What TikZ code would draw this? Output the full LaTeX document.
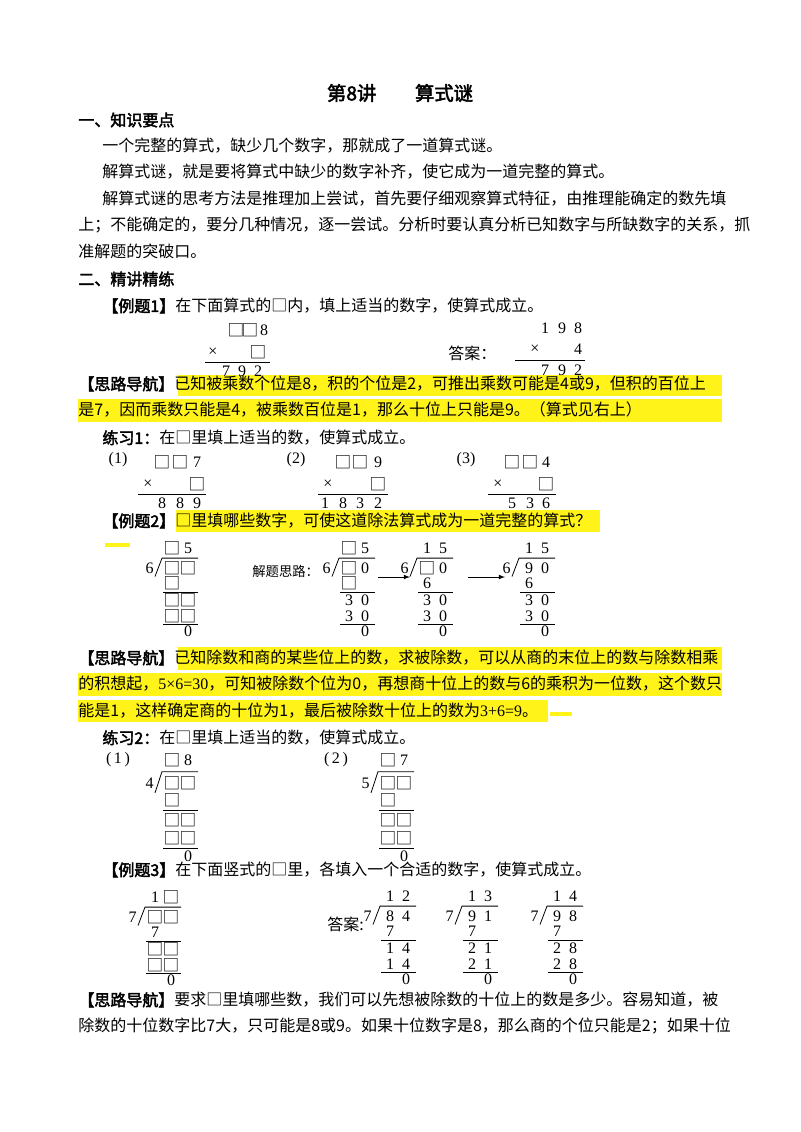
\documentclass[tikz,border=0pt]{standalone}
\usepackage{fontspec}
\setmainfont{Noto Sans CJK SC}[AutoFakeBold=2.5]
\newfontfamily\cjkf{Noto Sans CJK SC}
\newfontfamily\lsf{Liberation Serif}
\newcommand\bx{{\cjkf\fontsize{12.5}{13}\selectfont □}}
\newcommand\rw[3]{\node[dg] at (9,#1){#2}; \node[dg] at (25,#1){#3};}
\newcommand\frm[1]{\node[dg,anchor=east] at (-9,22){#1}; \draw (-8,31)--(-1,11)--(35,11); \draw (0,48)--(35,48); \draw (0,83)--(35,83);}
\begin{document}
\begin{tikzpicture}[x=0.75pt,y=-0.75pt,
  tx/.style={anchor=west,inner sep=0,font=\fontsize{12}{14}\selectfont},
  hd/.style={tx,font=\fontsize{12}{14}\selectfont\bfseries},
  dg/.style={inner sep=0,font=\lsf\fontsize{12}{13}\selectfont},
  hl/.style={fill=yellow!90!white},
  line width=0.6pt]
\fill[white] (0,0) rectangle (800,1132);
% highlights
\fill[hl] (178,375) rectangle (722,396);
\fill[hl] (78,399) rectangle (722,422);
\fill[hl] (176,510) rectangle (600,532);
\fill[hl] (105,543) rectangle (130,547);
\fill[hl] (178,647) rectangle (722,670);
\fill[hl] (78,673) rectangle (722,696);
\fill[hl] (78,700) rectangle (548,722);
\fill[hl] (550,712) rectangle (572,716);
% title & text
\node[inner sep=0,font=\fontsize{14.5}{16}\selectfont\bfseries] (t) at (400,93) {第8讲\quad\quad 算式谜};
\node[hd] (h1) at (78,120) {一、知识要点};
\node[tx] (l1) at (102,146) {一个完整的算式，缺少几个数字，那就成了一道算式谜。};
\node[tx] (l2) at (102,172) {解算式谜，就是要将算式中缺少的数字补齐，使它成为一道完整的算式。};
\node[tx] (l3) at (102,199) {解算式谜的思考方法是推理加上尝试，首先要仔细观察算式特征，由推理能确定的数先填};
\node[tx] (l4) at (78,225) {上；不能确定的，要分几种情况，逐一尝试。分析时要认真分析已知数字与所缺数字的关系，抓};
\node[tx] (l5) at (78,251) {准解题的突破口。};
\node[hd] (h2) at (78,279) {二、精讲精练};
\node[tx] (e1) at (102,306) {\textbf{【例题1】}在下面算式的□内，填上适当的数字，使算式成立。};
% example 1
\node[dg] at (236,330){\bx}; \node[dg] at (250,330){\bx}; \node[dg] at (264,330){8};
\node[dg] at (213,352){×}; \node[dg] at (258,352){\bx};
\draw (205,362)--(270,362);
\node[dg] at (226,371){7}; \node[dg] at (242,371){9}; \node[dg] at (258,371){2};
\node[tx] at (448,353){答案：};
\node[dg] at (545,328){1}; \node[dg] at (562,328){9}; \node[dg] at (578,328){8};
\node[dg] at (535,349){×}; \node[dg] at (578,349){4};
\draw (515,360)--(585,360);
\node[dg] at (545,370){7}; \node[dg] at (562,370){9}; \node[dg] at (578,370){2};
\node[tx] (s1) at (78,384) {\textbf{【思路导航】}已知被乘数个位是8，积的个位是2，可推出乘数可能是4或9，但积的百位上};
\node[tx] (s2) at (78,410) {是7，因而乘数只能是4，被乘数百位是1，那么十位上只能是9。（算式见右上）};
\node[tx] (p1) at (102,438) {\textbf{练习1：}在□里填上适当的数，使算式成立。};
% practice 1
\node[dg] at (118,460){(1)};
\node[dg] at (162,462){\bx}; \node[dg] at (180,462){\bx}; \node[dg] at (197,462){7};
\node[dg] at (148,484){×}; \node[dg] at (197,484){\bx};
\draw (138,494)--(206,494);
\node[dg] at (162,503){8}; \node[dg] at (180,503){8}; \node[dg] at (197,503){9};
\node[dg] at (296,460){(2)};
\node[dg] at (343,462){\bx}; \node[dg] at (360,462){\bx}; \node[dg] at (378,462){9};
\node[dg] at (328,484){×}; \node[dg] at (378,484){\bx};
\draw (318,494)--(388,494);
\node[dg] at (325,503){1}; \node[dg] at (343,503){8}; \node[dg] at (360,503){3}; \node[dg] at (378,503){2};
\node[dg] at (466,460){(3)};
\node[dg] at (512,462){\bx}; \node[dg] at (530,462){\bx}; \node[dg] at (546,462){4};
\node[dg] at (498,484){×}; \node[dg] at (546,484){\bx};
\draw (488,494)--(556,494);
\node[dg] at (512,503){5}; \node[dg] at (530,503){3}; \node[dg] at (546,503){6};
\node[tx] (e2) at (102,521) {\textbf{【例题2】}□里填哪些数字，可使这道除法算式成为一道完整的算式？};
% example 2
\begin{scope}[shift={(163,548)},yscale=0.92]
\frm{6}\rw{0}{\bx}{5}\rw{22}{\bx}{\bx}\rw{38}{\bx}{}\rw{57}{\bx}{\bx}\rw{74}{\bx}{\bx}\rw{91}{}{0}
\end{scope}
\node[tx,font=\fontsize{10}{12}\selectfont] (jt) at (252,571) {解题思路：};
\begin{scope}[shift={(340,548)},yscale=0.92]
\frm{6}\rw{0}{\bx}{5}\rw{22}{\bx}{0}\rw{38}{\bx}{}\rw{57}{3}{0}\rw{74}{3}{0}\rw{91}{}{0}
\end{scope}
\coordinate (a1) at (378,577); \coordinate (a2) at (410,577);
\draw[-latex] (a1)--(a2);
\begin{scope}[shift={(418,548)},yscale=0.92]
\frm{6}\rw{0}{1}{5}\rw{22}{\bx}{0}\rw{38}{6}{}\rw{57}{3}{0}\rw{74}{3}{0}\rw{91}{}{0}
\end{scope}
\coordinate (a3) at (468,577); \coordinate (a4) at (505,577);
\draw[-latex] (a3)--(a4);
\begin{scope}[shift={(520,548)},yscale=0.92]
\frm{6}\rw{0}{1}{5}\rw{22}{9}{0}\rw{38}{6}{}\rw{57}{3}{0}\rw{74}{3}{0}\rw{91}{}{0}
\end{scope}
\node[tx] (s3) at (78,658) {\textbf{【思路导航】}已知除数和商的某些位上的数，求被除数，可以从商的末位上的数与除数相乘};
\node[tx] (s4) at (78,684) {的积想起，{\lsf 5×6=30}，可知被除数个位为0，再想商十位上的数与6的乘积为一位数，这个数只};
\node[tx] (s5) at (78,711) {能是1，这样确定商的十位为1，最后被除数十位上的数为{\lsf 3+6=9}。};
\node[tx] (p2) at (102,738) {\textbf{练习2：}在□里填上适当的数，使算式成立。};
% practice 2
\node[dg] at (118,760){(\,1\,)};
\begin{scope}[shift={(163,760)},yscale=1.06]
\frm{4}\rw{0}{\bx}{8}\rw{22}{\bx}{\bx}\rw{38}{\bx}{}\rw{57}{\bx}{\bx}\rw{74}{\bx}{\bx}\rw{91}{}{0}
\end{scope}
\node[dg] at (336,760){(\,2\,)};
\begin{scope}[shift={(379,760)},yscale=1.06]
\frm{5}\rw{0}{\bx}{7}\rw{22}{\bx}{\bx}\rw{38}{\bx}{}\rw{57}{\bx}{\bx}\rw{74}{\bx}{\bx}\rw{91}{}{0}
\end{scope}
\node[tx] (e3) at (102,870) {\textbf{【例题3】}在下面竖式的□里，各填入一个合适的数字，使算式成立。};
% example 3
\begin{scope}[shift={(146,897)},yscale=0.92]
\frm{7}\rw{0}{1}{\bx}\rw{22}{\bx}{\bx}\rw{38}{7}{}\rw{57}{\bx}{\bx}\rw{74}{\bx}{\bx}\rw{91}{}{0}
\end{scope}
\node[tx] (da) at (327,924) {答案:};
\begin{scope}[shift={(381,896)},yscale=0.92]
\frm{7}\rw{0}{1}{2}\rw{22}{8}{4}\rw{38}{7}{}\rw{57}{1}{4}\rw{74}{1}{4}\rw{91}{}{0}
\end{scope}
\begin{scope}[shift={(463,896)},yscale=0.92]
\frm{7}\rw{0}{1}{3}\rw{22}{9}{1}\rw{38}{7}{}\rw{57}{2}{1}\rw{74}{2}{1}\rw{91}{}{0}
\end{scope}
\begin{scope}[shift={(548,896)},yscale=0.92]
\frm{7}\rw{0}{1}{4}\rw{22}{9}{8}\rw{38}{7}{}\rw{57}{2}{8}\rw{74}{2}{8}\rw{91}{}{0}
\end{scope}
\node[tx] (s6) at (78,1000) {\textbf{【思路导航】}要求□里填哪些数，我们可以先想被除数的十位上的数是多少。容易知道，被};
\node[tx] (s7) at (78,1026) {除数的十位数字比7大，只可能是8或9。如果十位数字是8，那么商的个位只能是2；如果十位};
\end{tikzpicture}
\end{document}
